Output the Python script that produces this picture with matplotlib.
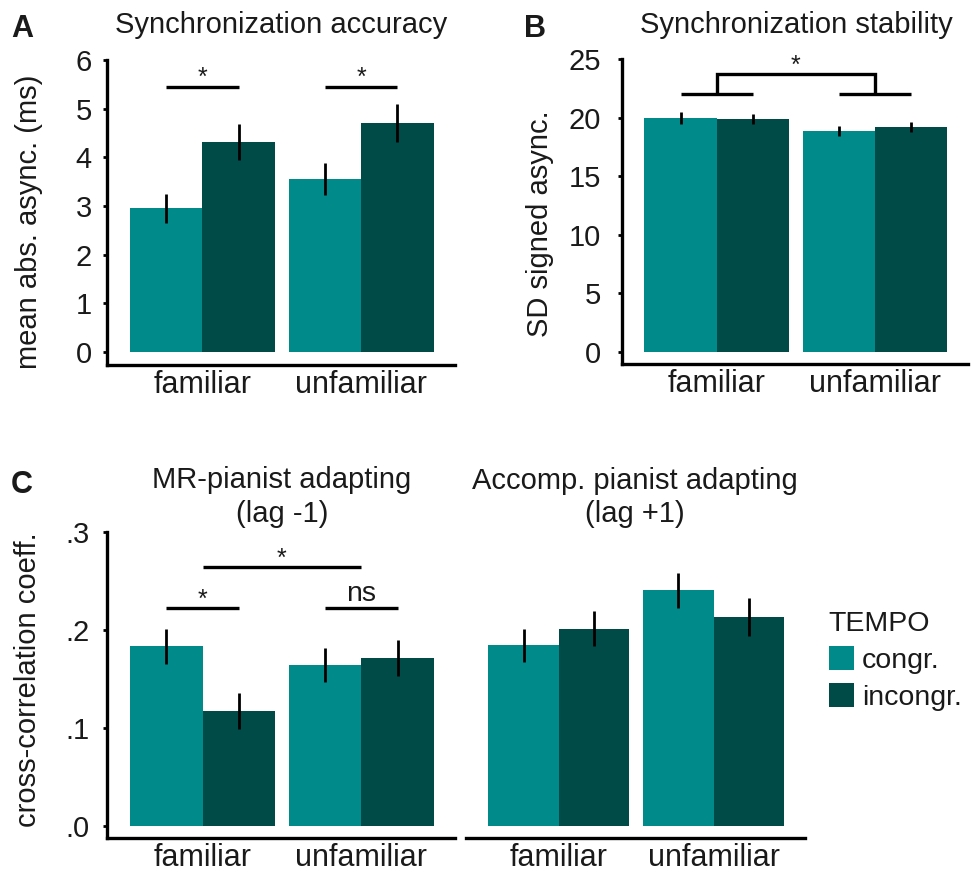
import matplotlib
matplotlib.use("Agg")
import matplotlib.pyplot as plt
from matplotlib.patches import Patch
import numpy as np

plt.rcParams['font.family'] = ['Liberation Sans', 'DejaVu Sans']

# ---------------- data ----------------
categories = ['familiar', 'unfamiliar']
tempo_labels = ['congr.', 'incongr.']

acc_congr = [2.95, 3.55]
acc_congr_err = [0.30, 0.33]
acc_incongr = [4.31, 4.70]
acc_incongr_err = [0.37, 0.39]

stab_congr = [20.0, 18.9]
stab_congr_err = [0.50, 0.43]
stab_incongr = [19.9, 19.2]
stab_incongr_err = [0.45, 0.40]

mr_congr = [0.183, 0.164]
mr_congr_err = [0.018, 0.017]
mr_incongr = [0.117, 0.171]
mr_incongr_err = [0.018, 0.018]

ap_congr = [0.184, 0.240]
ap_congr_err = [0.017, 0.018]
ap_incongr = [0.201, 0.213]
ap_incongr_err = [0.018, 0.019]

yticks_acc = [0, 1, 2, 3, 4, 5, 6]
yticks_stab = [0, 5, 10, 15, 20, 25]
yticks_cc = [0.0, 0.1, 0.2, 0.3]
yticklabels_cc = ['.0', '.1', '.2', '.3']

# ---------------- style ----------------
CONGR = '#008B8A'
INCONGR = '#004A47'
TXT = '#1a1a1a'
W, H = 975, 872
BW = 0.456
SPINE_LW = 2.4
ERR_LW = 2.0
SIG_LW = 2.4
FS_TITLE = 21
FS_LABEL = 21
FS_XT = 22
FS_YT = 21

fig = plt.figure(figsize=(W / 100, H / 100), dpi=100)


def px_axes(l, r, t, b):
    return fig.add_axes([l / W, (H - b) / H, (r - l) / W, (b - t) / H])


def style_axes(ax, ylim, yticks=None, yticklabels=None, ypad=8, show_y=True):
    ax.set_xlim(-0.6, 1.59)
    ax.set_ylim(*ylim)
    for s in ['top', 'right']:
        ax.spines[s].set_visible(False)
    ax.spines['bottom'].set_linewidth(SPINE_LW)
    ax.spines['left'].set_linewidth(SPINE_LW)
    ax.set_xticks(range(len(categories)))
    ax.set_xticklabels(categories, fontsize=FS_XT, color=TXT)
    ax.tick_params(axis='x', length=0, pad=3.5)
    if show_y:
        ax.set_yticks(yticks)
        if yticklabels is not None:
            ax.set_yticklabels(yticklabels)
        ax.tick_params(axis='y', length=3, width=2, pad=ypad, labelsize=FS_YT,
                       labelcolor=TXT)
    else:
        ax.spines['left'].set_visible(False)
        ax.set_yticks([])
    ax.patch.set_alpha(0)


def draw_bars(ax, c, ce, i, ie):
    x = np.arange(len(categories))
    ax.bar(x - BW / 2, c, BW, yerr=ce, color=CONGR, linewidth=0,
           error_kw=dict(elinewidth=ERR_LW, capsize=0, ecolor='black'))
    ax.bar(x + BW / 2, i, BW, yerr=ie, color=INCONGR, linewidth=0,
           error_kw=dict(elinewidth=ERR_LW, capsize=0, ecolor='black'))


def sig_line(ax, x0, x1, y, label, fs=18, dy=0.0):
    ax.plot([x0, x1], [y, y], color='black', lw=SIG_LW, solid_capstyle='butt',
            clip_on=False)
    ax.text((x0 + x1) / 2, y + dy, label, ha='center', va='baseline',
            fontsize=fs, color=TXT, clip_on=False)


# ---------------- Panel A ----------------
axA = px_axes(107, 455, 60, 365)
draw_bars(axA, acc_congr, acc_congr_err, acc_incongr, acc_incongr_err)
style_axes(axA, (-0.267, 6), yticks_acc, ypad=8)
for g in range(2):
    sig_line(axA, g - BW / 2, g + BW / 2, 5.44, '*', dy=0.04)

# ---------------- Panel B ----------------
axB = px_axes(621.7, 968, 59.3, 364)
draw_bars(axB, stab_congr, stab_congr_err, stab_incongr, stab_incongr_err)
style_axes(axB, (-1.05, 25), yticks_stab, ypad=12)
for g in range(2):
    axB.plot([g - BW / 2, g + BW / 2], [22.0, 22.0], color='black', lw=SIG_LW,
             solid_capstyle='butt')
axB.plot([0, 0, 1, 1], [22.0, 23.73, 23.73, 22.0], color='black', lw=SIG_LW,
         solid_capstyle='butt', solid_joinstyle='miter')
axB.text(0.5, 23.73 + 0.15, '*', ha='center', va='baseline', fontsize=18,
         color=TXT)

# ---------------- Panel C ----------------
axC = px_axes(107.3, 455, 531.7, 838.3)
draw_bars(axC, mr_congr, mr_congr_err, mr_incongr, mr_incongr_err)
style_axes(axC, (-0.0129, 0.3), yticks_cc, yticklabels_cc, ypad=10)
sig_line(axC, -BW / 2, BW / 2, 0.222, '*', dy=0.001)
sig_line(axC, 1 - BW / 2, 1 + BW / 2, 0.222, 'ns', fs=20.5, dy=0.0068)
sig_line(axC, 0, 1, 0.2637, '*', dy=0.001)

# ---------------- Panel D ----------------
axD = px_axes(466, 805, 531.7, 838.3)
draw_bars(axD, ap_congr, ap_congr_err, ap_incongr, ap_incongr_err)
style_axes(axD, (-0.0129, 0.3), show_y=False)

# ---------------- texts ----------------
def ftext(x, y, s, **kw):
    kw.setdefault('color', TXT)
    fig.text(x / W, 1 - y / H, s, **kw)


ftext(281, 33, 'Synchronization accuracy', ha='center', va='baseline', fontsize=FS_TITLE)
ftext(796, 33, 'Synchronization stability', ha='center', va='baseline', fontsize=FS_TITLE)
ftext(282, 488, 'MR-pianist adapting', ha='center', va='baseline', fontsize=FS_TITLE)
ftext(282, 522, '(lag -1)', ha='center', va='baseline', fontsize=FS_TITLE)
ftext(635, 489, 'Accomp. pianist adapting', ha='center', va='baseline', fontsize=FS_TITLE)
ftext(635, 522, '(lag +1)', ha='center', va='baseline', fontsize=FS_TITLE)

ftext(11, 37, 'A', ha='left', va='baseline', fontsize=22, fontweight='bold')
ftext(524, 37, 'B', ha='left', va='baseline', fontsize=22, fontweight='bold')
ftext(11, 493, 'C', ha='left', va='baseline', fontsize=22, fontweight='bold')

ftext(29, 222, 'mean abs. async. (ms)', rotation=90, ha='center', va='center', fontsize=FS_LABEL)
ftext(540, 224, 'SD signed async.', rotation=90, ha='center', va='center', fontsize=FS_LABEL)
ftext(28, 680, 'cross-correlation coeff.', rotation=90, ha='center', va='center', fontsize=FS_LABEL)

# ---------------- legend ----------------
handles = [Patch(facecolor=CONGR, edgecolor='none', label=tempo_labels[0]),
           Patch(facecolor=INCONGR, edgecolor='none', label=tempo_labels[1])]
leg = fig.legend(handles=handles, title='TEMPO', loc='upper left',
                 bbox_to_anchor=(828.5 / W, 1 - 611 / H), frameon=False,
                 fontsize=20.5, title_fontsize=20.5, alignment='left',
                 handlelength=0.88, handleheight=0.88, handletextpad=0.3,
                 labelspacing=0.33, borderpad=0, borderaxespad=0)
for t in leg.get_texts():
    t.set_color(TXT)
leg.get_title().set_color(TXT)

fig.savefig('out.png', dpi=100)
